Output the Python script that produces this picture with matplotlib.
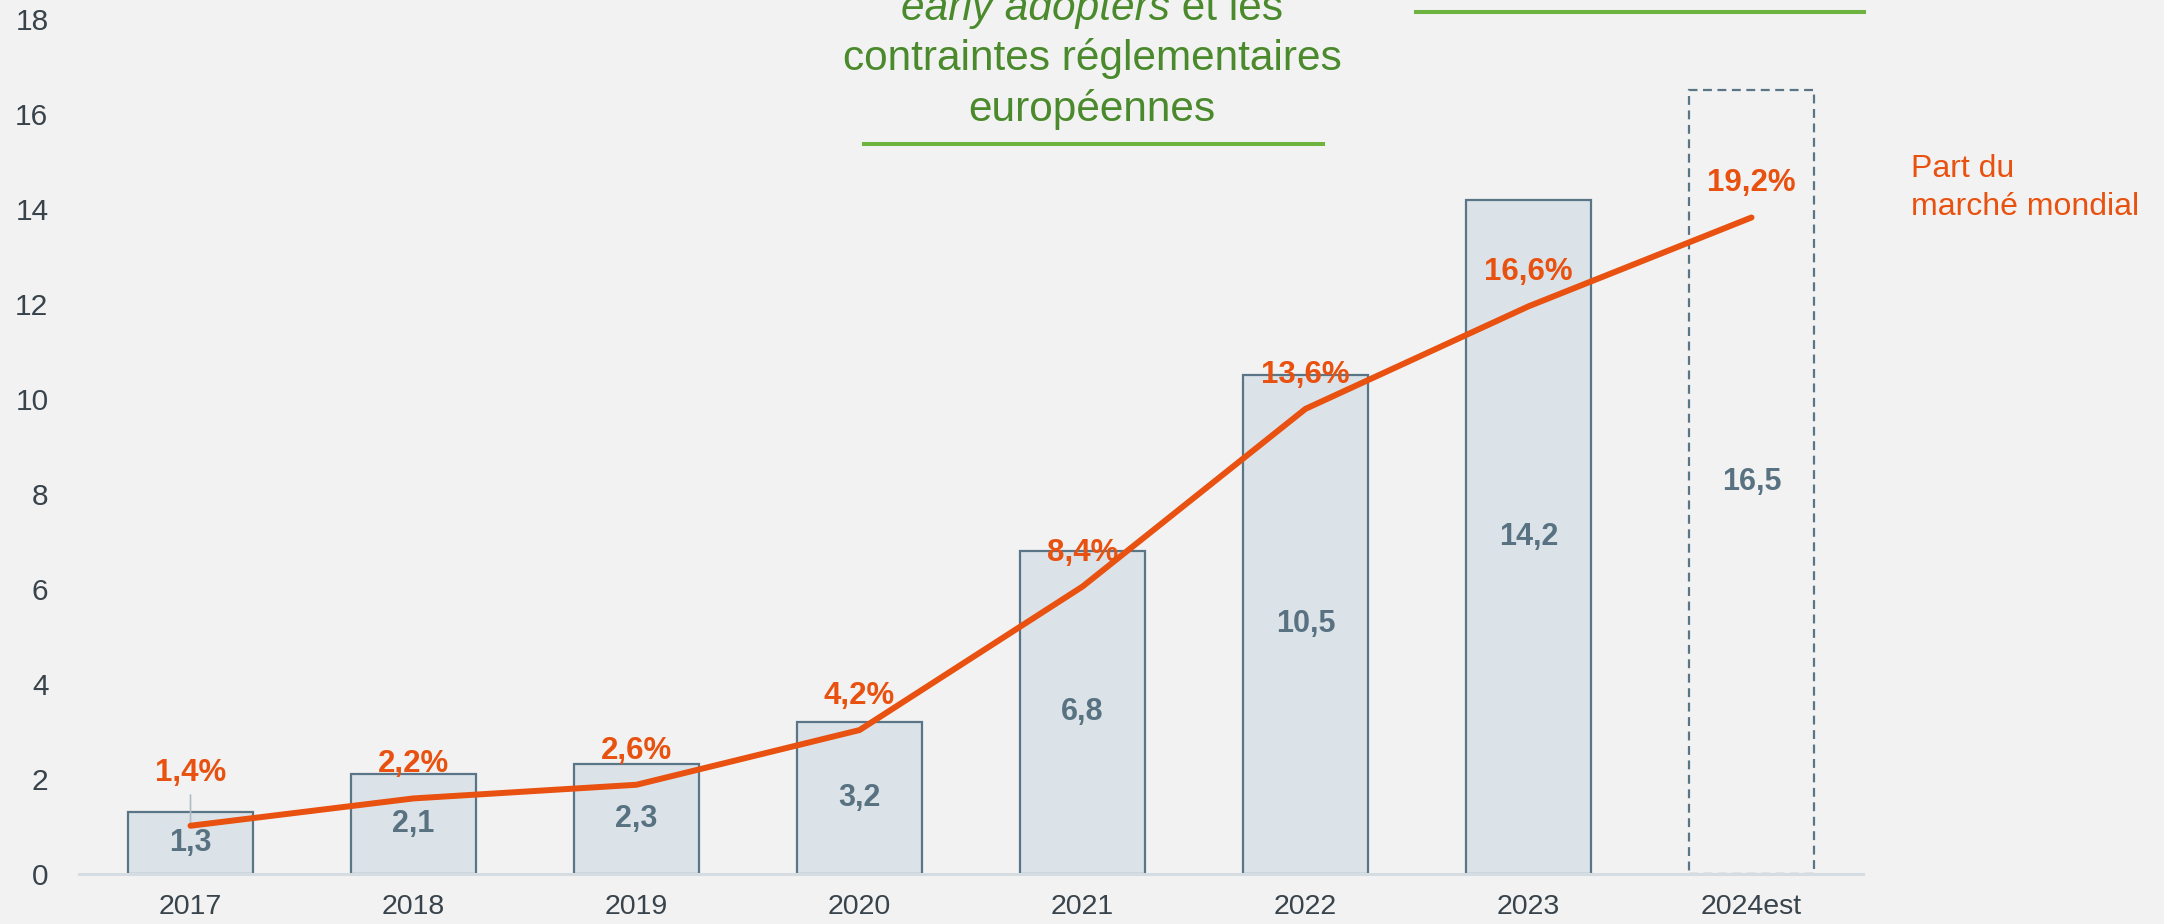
import numpy as np
import matplotlib.pyplot as plt
from matplotlib.lines import Line2D

plt.rcParams['font.family'] = ['Liberation Sans', 'DejaVu Sans']

# --- Données ---
annees = ['2017', '2018', '2019', '2020', '2021', '2022', '2023', '2024est']
ventes = [1.3, 2.1, 2.3, 3.2, 6.8, 10.5, 14.2, 16.5]
part_marche = [1.4, 2.2, 2.6, 4.2, 8.4, 13.6, 16.6, 19.2]
yticks = [0, 2, 4, 6, 8, 10, 12, 14, 16, 18]

BG = '#f2f2f2'
FILL = '#dbe3e9'
EDGE = '#5a7585'
VAL_TXT = '#587282'
TICK_TXT = '#38434b'
ORANGE = '#e8510f'
GREEN_TXT = '#4a8a2c'
GREEN_LINE = '#6cb33f'


def fr(v, pct=False):
    s = f"{v:.1f}".replace('.', ',')
    return s + '%' if pct else s


W, H = 2164, 924
fig = plt.figure(figsize=(W / 100, H / 100), dpi=100, facecolor=BG)
ax = fig.add_axes([79 / W, 1 - 873.6 / H, (1863 - 79) / W, (873.6 - 19.3) / H])
ax.set_facecolor(BG)

x = np.arange(len(annees))
for xi, v, a in zip(x, ventes, annees):
    if a.endswith('est'):
        ax.bar(xi, v, width=0.56, facecolor='none', edgecolor=EDGE,
               linewidth=1.6, linestyle=(0, (4, 2.5)), zorder=2)
    else:
        ax.bar(xi, v, width=0.56, color=FILL, edgecolor=EDGE, linewidth=1.6, zorder=2)
    ax.text(xi, v / 2, fr(v), ha='center', va='center', fontsize=22,
            fontweight='bold', color=VAL_TXT, zorder=3)

ax.set_xlim(-0.5, len(annees) - 0.5)
ax.set_ylim(0, 18)
ax.set_yticks(yticks)
ax.set_xticks(x)
ax.set_xticklabels(annees)
ax.tick_params(axis='y', length=0, pad=22, labelsize=21.5, labelcolor=TICK_TXT)
ax.tick_params(axis='x', length=0, pad=15, labelsize=20.5, labelcolor=TICK_TXT)
for s in ['top', 'right', 'left']:
    ax.spines[s].set_visible(False)
ax.spines['bottom'].set_color('#d6dde2')
ax.spines['bottom'].set_linewidth(2.2)

# --- Part de marché (axe secondaire masqué) ---
ax2 = ax.twinx()
ax2.set_ylim(0, 25)
ax2.axis('off')
ax2.plot(x, part_marche, color=ORANGE, lw=4.3, solid_capstyle='round',
         solid_joinstyle='round', zorder=4)
for i, (xi, p) in enumerate(zip(x, part_marche)):
    if i == 0:
        ax2.annotate(fr(p, True), xy=(xi, p), xytext=(0, 38), textcoords='offset points',
                     ha='center', va='center', fontsize=22.5, fontweight='bold', color=ORANGE,
                     arrowprops=dict(arrowstyle='-', color='#adbcc6', lw=1.2,
                                     shrinkA=3, shrinkB=1, relpos=(0.5, 0)))
    else:
        ax2.annotate(fr(p, True), xy=(xi, p), xytext=(0, 24.5), textcoords='offset points',
                     ha='center', va='center', fontsize=22.5, fontweight='bold', color=ORANGE)

fig.text(1911 / W, 1 - 177 / H, 'Part du', fontsize=23, color=ORANGE, va='baseline')
fig.text(1911 / W, 1 - 215 / H, 'marché mondial', fontsize=23, color=ORANGE, va='baseline')

# --- Encadré vert (coupé en haut) ---
cx = 1092
r = fig.canvas.get_renderer()
t1 = fig.text(0, 1 - 20 / H, 'early adopters', style='italic', fontsize=30.5,
              color=GREEN_TXT, va='baseline')
t2 = fig.text(0, 1 - 20 / H, ' et les', fontsize=30.5, color=GREEN_TXT, va='baseline')
w1 = t1.get_window_extent(r).width
w2 = t2.get_window_extent(r).width
left = cx - (w1 + w2) / 2
t1.set_x(left / W)
t2.set_x((left + w1) / W)
fig.text(cx / W, 1 - 70 / H, 'contraintes réglementaires', fontsize=30.5,
         color=GREEN_TXT, ha='center', va='baseline')
fig.text(cx / W, 1 - 121 / H, 'européennes', fontsize=30.5,
         color=GREEN_TXT, ha='center', va='baseline')

fig.add_artist(Line2D([864 / W, 1323 / W], [1 - 144 / H, 1 - 144 / H],
                      transform=fig.transFigure, color=GREEN_LINE, lw=2.9))
fig.add_artist(Line2D([1416 / W, 1864 / W], [1 - 12 / H, 1 - 12 / H],
                      transform=fig.transFigure, color=GREEN_LINE, lw=2.9))

fig.savefig('out.png', dpi=100, facecolor=BG)
